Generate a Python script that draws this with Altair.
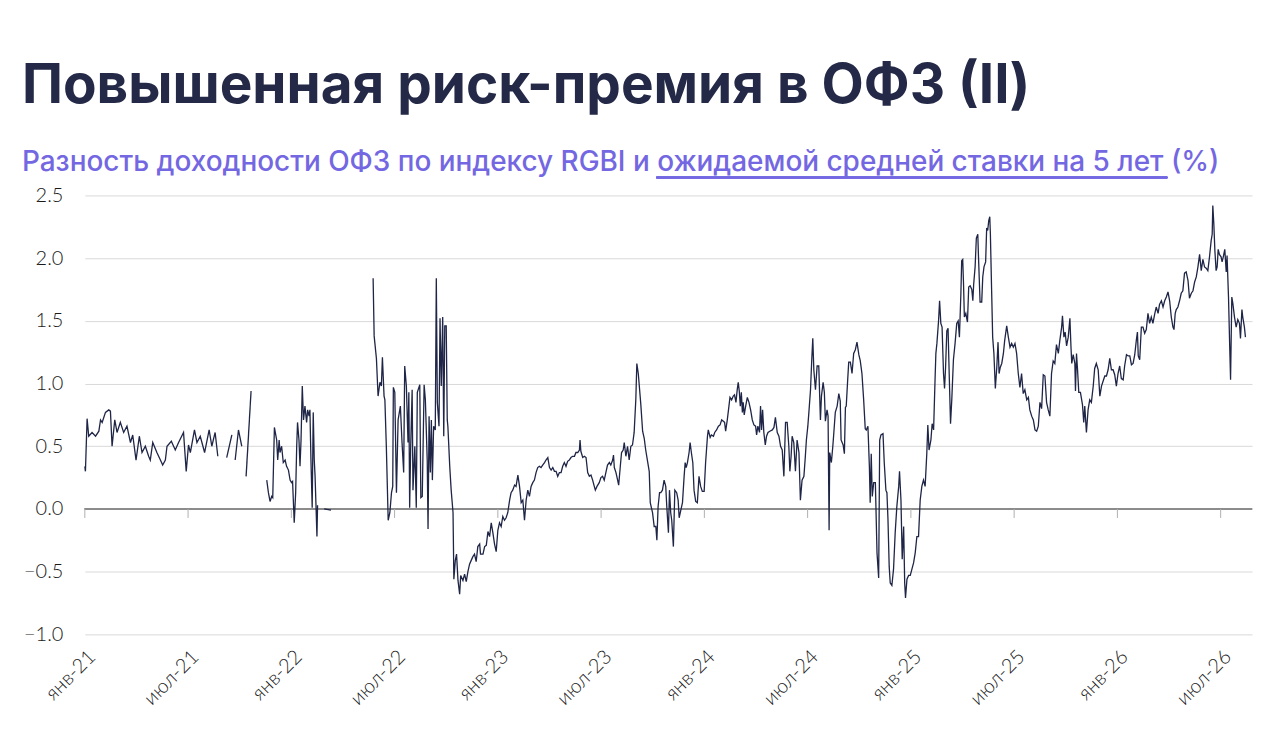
import altair as alt
import pandas as pd

# x = years since 1 Jan 2021, y = spread, %
SEG_2021_A = [(0.000,0.34),(0.003,0.30),(0.011,0.72),(0.019,0.58),(0.035,0.61),(0.052,0.58),(0.068,0.62),(0.076,0.71),(0.084,0.69),(0.100,0.77),(0.116,0.79),(0.124,0.78),(0.132,0.50),(0.145,0.71),(0.156,0.61),(0.172,0.69),(0.188,0.61),(0.204,0.66),(0.221,0.53),(0.232,0.59),(0.248,0.39),(0.264,0.58),(0.277,0.45),(0.293,0.50),(0.309,0.42),(0.317,0.39),(0.329,0.53),(0.349,0.45),(0.366,0.39),(0.377,0.35),(0.390,0.39),(0.398,0.50),(0.419,0.54),(0.438,0.47),(0.454,0.53),(0.478,0.61),(0.491,0.30),(0.502,0.51),(0.511,0.45),(0.531,0.63),(0.543,0.53),(0.559,0.58),(0.580,0.45),(0.602,0.63),(0.615,0.50),(0.631,0.61),(0.644,0.42)]
SEG_2021_B = [(0.687,0.41),(0.712,0.59)]
SEG_2021_C = [(0.728,0.39),(0.744,0.63),(0.760,0.50)]
SEG_2021_D = [(0.781,0.26),(0.805,0.94)]
SEG_2021_E = [(0.881,0.23),(0.889,0.13),(0.897,0.06),(0.905,0.10),(0.910,0.09),(0.918,0.65),(0.929,0.55),(0.934,0.39),(0.941,0.55),(0.945,0.45),(0.953,0.50),(0.961,0.37),(0.970,0.39),(0.977,0.34),(0.986,0.31),(0.994,0.23),(1.001,0.21),(1.006,0.22),(1.014,-0.11),(1.021,0.13),(1.026,0.50),(1.030,0.69),(1.037,0.55),(1.042,0.34),(1.047,0.55),(1.053,0.98),(1.059,0.71),(1.066,0.82),(1.074,0.69),(1.079,0.79),(1.086,0.74),(1.090,0.79),(1.095,0.39),(1.101,0.01),(1.106,0.77),(1.111,0.39),(1.115,0.26),(1.119,0.05),(1.124,-0.22),(1.127,0.03)]
SEG_2022_F = [(1.159,0.00),(1.192,-0.01)]

MAIN_2022 = [(1.396,1.84),(1.401,1.38),(1.412,1.20),(1.420,0.90),(1.429,1.01),(1.436,0.98),(1.441,1.21),(1.449,0.90),(1.453,0.87),(1.460,0.50),(1.469,-0.09),(1.477,-0.03),(1.485,0.13),(1.491,0.18),(1.494,0.97),(1.501,0.93),(1.509,0.13),(1.517,0.71),(1.528,0.82),(1.536,0.53),(1.544,0.29),(1.549,1.14),(1.557,0.98),(1.565,0.53),(1.569,0.93),(1.573,0.01),(1.578,0.50),(1.585,0.95),(1.589,0.15),(1.598,0.50),(1.605,0.01),(1.610,0.93),(1.622,0.99),(1.627,0.09),(1.634,0.10),(1.643,0.99),(1.649,0.87),(1.658,0.39),(1.662,-0.16),(1.667,0.74),(1.673,0.29),(1.678,0.71),(1.683,0.23),(1.689,0.66),(1.697,0.63),(1.702,1.84),(1.707,0.85),(1.715,0.66),(1.720,1.52),(1.726,0.98),(1.733,1.53),(1.738,0.58),(1.743,1.46),(1.750,1.46),(1.755,0.71),(1.758,0.66),(1.767,0.34),(1.774,0.15),(1.783,-0.03),(1.787,-0.56),(1.794,-0.41),(1.800,-0.36),(1.807,-0.57),(1.815,-0.68),(1.820,-0.53),(1.831,-0.57),(1.839,-0.52),(1.847,-0.58),(1.855,-0.50),(1.863,-0.44),(1.871,-0.41),(1.879,-0.38),(1.887,-0.36),(1.895,-0.42),(1.903,-0.30),(1.912,-0.28),(1.916,-0.36),(1.928,-0.36),(1.936,-0.30),(1.944,-0.29),(1.952,-0.18),(1.960,-0.22),(1.968,-0.11),(1.976,-0.19),(1.984,-0.28),(1.992,-0.34)]
MAIN_2023 = [(2.000,-0.17),(2.008,-0.11),(2.016,-0.14),(2.024,-0.06),(2.032,-0.09),(2.040,-0.07),(2.048,-0.03),(2.057,0.07),(2.064,0.13),(2.072,0.15),(2.081,0.19),(2.088,0.18),(2.097,0.27),(2.105,0.18),(2.113,0.05),(2.121,0.07),(2.129,-0.09),(2.137,0.07),(2.145,0.15),(2.153,0.10),(2.161,0.18),(2.169,0.21),(2.177,0.23),(2.185,0.29),(2.193,0.33),(2.201,0.34),(2.209,0.33),(2.217,0.35),(2.226,0.37),(2.233,0.39),(2.242,0.41),(2.250,0.33),(2.258,0.31),(2.266,0.33),(2.274,0.30),(2.282,0.30),(2.290,0.26),(2.298,0.29),(2.306,0.29),(2.314,0.34),(2.322,0.37),(2.330,0.34),(2.338,0.38),(2.346,0.39),(2.354,0.41),(2.362,0.42),(2.371,0.42),(2.378,0.45),(2.387,0.45),(2.395,0.47),(2.398,0.55),(2.402,0.46),(2.411,0.41),(2.419,0.42),(2.427,0.41),(2.435,0.29),(2.443,0.26),(2.451,0.27),(2.459,0.23),(2.467,0.18),(2.472,0.15),(2.480,0.18),(2.491,0.21),(2.499,0.25),(2.507,0.26),(2.515,0.23),(2.523,0.29),(2.531,0.35),(2.540,0.37),(2.547,0.35),(2.556,0.39),(2.560,0.43),(2.564,0.33),(2.572,0.29),(2.580,0.23),(2.585,0.19),(2.593,0.34),(2.599,0.45),(2.607,0.47),(2.612,0.53),(2.620,0.42),(2.628,0.50),(2.636,0.39),(2.644,0.50),(2.652,0.51),(2.660,0.61),(2.668,0.87),(2.673,1.16),(2.680,1.08),(2.685,0.98),(2.692,0.84),(2.701,0.62),(2.709,0.56),(2.716,0.47),(2.725,0.38),(2.733,0.30),(2.738,0.05),(2.749,-0.03),(2.757,-0.14),(2.765,-0.14),(2.770,-0.25),(2.776,0.02),(2.783,0.13),(2.789,0.13),(2.797,0.15),(2.805,0.23),(2.813,0.18),(2.818,0.02),(2.826,-0.19),(2.831,0.15),(2.837,-0.03),(2.842,-0.09),(2.850,-0.30),(2.857,0.15),(2.866,0.13),(2.873,0.07),(2.878,-0.07),(2.886,-0.01),(2.894,0.05),(2.902,0.26),(2.907,0.37),(2.912,0.33),(2.918,0.37),(2.926,0.45),(2.931,0.53),(2.937,0.45),(2.944,0.37),(2.950,0.15),(2.958,0.06),(2.966,0.05),(2.974,0.26),(2.982,0.18),(2.990,0.14),(2.999,0.14)]
MAIN_2024 = [(3.006,0.37),(3.015,0.58),(3.019,0.63),(3.028,0.57),(3.034,0.59),(3.044,0.58),(3.050,0.61),(3.059,0.63),(3.068,0.66),(3.076,0.67),(3.084,0.71),(3.092,0.70),(3.098,0.69),(3.103,0.62),(3.111,0.71),(3.119,0.82),(3.124,0.89),(3.132,0.87),(3.140,0.90),(3.146,0.91),(3.153,0.85),(3.159,0.95),(3.164,1.01),(3.169,0.94),(3.174,0.82),(3.179,0.93),(3.184,0.77),(3.188,0.85),(3.193,0.75),(3.200,0.82),(3.208,0.89),(3.216,0.85),(3.224,0.79),(3.232,0.71),(3.240,0.67),(3.248,0.66),(3.253,0.59),(3.259,0.66),(3.267,0.61),(3.272,0.82),(3.277,0.63),(3.282,0.79),(3.288,0.61),(3.295,0.51),(3.301,0.58),(3.308,0.61),(3.317,0.62),(3.329,0.63),(3.337,0.65),(3.344,0.73),(3.353,0.61),(3.361,0.58),(3.369,0.50),(3.377,0.47),(3.385,0.26),(3.393,0.69),(3.401,0.69),(3.409,0.50),(3.414,0.30),(3.420,0.42),(3.425,0.58),(3.433,0.53),(3.441,0.30),(3.449,0.55),(3.458,0.45),(3.465,0.07),(3.473,0.23),(3.482,0.26),(3.489,0.42),(3.494,0.55),(3.501,0.66),(3.507,0.79),(3.514,0.95),(3.520,1.19),(3.525,1.36),(3.530,1.11),(3.538,0.95),(3.546,1.14),(3.554,1.14),(3.562,0.71),(3.567,0.90),(3.575,1.01),(3.581,0.93),(3.586,0.70),(3.594,0.79),(3.599,0.74),(3.604,-0.17),(3.607,0.45),(3.615,0.37),(3.622,0.50),(3.627,0.61),(3.634,0.77),(3.643,0.82),(3.651,0.92),(3.658,0.86),(3.662,0.55),(3.672,0.51),(3.678,0.44),(3.683,0.81),(3.687,0.82),(3.694,1.03),(3.699,1.17),(3.707,1.17),(3.715,1.08),(3.723,1.24),(3.731,1.27),(3.739,1.33),(3.748,1.23),(3.755,1.18),(3.763,1.08),(3.771,0.88),(3.779,0.64),(3.784,0.63),(3.792,0.66),(3.799,0.34),(3.803,0.05),(3.808,0.44),(3.813,0.10),(3.820,0.21),(3.828,0.21),(3.836,-0.35),(3.844,-0.55),(3.849,0.55),(3.855,0.59),(3.865,0.60),(3.871,0.37),(3.879,0.15),(3.884,0.13),(3.889,-0.08),(3.895,-0.46),(3.900,-0.59),(3.908,-0.61),(3.916,-0.48),(3.924,-0.19),(3.932,0.02),(3.941,0.18),(3.945,0.30),(3.952,0.07),(3.958,-0.40),(3.965,-0.14),(3.970,-0.59),(3.974,-0.71),(3.981,-0.56),(3.989,-0.53),(3.997,-0.53)]
MAIN_2025 = [(4.005,-0.48),(4.013,-0.43),(4.021,-0.35),(4.029,-0.22),(4.037,-0.22),(4.045,0.07),(4.053,0.18),(4.061,0.23),(4.069,0.18),(4.077,0.44),(4.082,0.67),(4.088,0.47),(4.097,0.55),(4.103,0.68),(4.110,0.63),(4.117,1.03),(4.121,1.24),(4.126,1.32),(4.134,1.50),(4.139,1.66),(4.145,1.48),(4.151,1.45),(4.158,1.08),(4.163,0.96),(4.168,1.13),(4.174,1.42),(4.180,1.44),(4.185,1.11),(4.192,0.68),(4.198,0.87),(4.206,1.19),(4.214,1.32),(4.222,1.48),(4.229,1.50),(4.235,1.37),(4.242,1.71),(4.246,1.98),(4.251,1.99),(4.255,1.79),(4.259,1.53),(4.266,1.56),(4.274,1.49),(4.280,1.77),(4.287,1.78),(4.295,1.75),(4.300,1.66),(4.304,1.79),(4.311,1.93),(4.317,2.16),(4.324,2.19),(4.327,2.03),(4.335,1.65),(4.343,1.65),(4.348,1.85),(4.354,1.93),(4.362,1.97),(4.367,2.24),(4.372,2.22),(4.377,2.30),(4.382,2.33),(4.385,2.19),(4.391,1.74),(4.396,1.37),(4.402,1.24),(4.409,0.96),(4.416,1.13),(4.422,1.33),(4.427,1.08),(4.433,1.13),(4.440,1.16),(4.448,1.24),(4.454,1.34),(4.464,1.46),(4.472,1.37),(4.480,1.29),(4.488,1.32),(4.496,1.29),(4.504,1.32),(4.512,1.24),(4.520,1.08),(4.528,0.97),(4.536,1.08),(4.544,0.92),(4.552,0.95),(4.561,0.87),(4.569,0.89),(4.576,0.79),(4.585,0.74),(4.593,0.71),(4.601,0.63),(4.609,0.62),(4.617,0.66),(4.625,0.85),(4.633,0.80),(4.641,1.07),(4.649,1.06),(4.657,0.85),(4.665,0.79),(4.673,0.74),(4.681,1.08),(4.689,1.18),(4.697,1.16),(4.705,1.31),(4.714,1.24),(4.721,1.34),(4.730,1.45),(4.734,1.54),(4.741,1.37),(4.747,1.41),(4.754,1.30),(4.762,1.37),(4.770,1.52),(4.775,1.30),(4.779,1.16),(4.786,1.23),(4.794,1.16),(4.797,0.94),(4.802,1.24),(4.807,1.11),(4.813,0.93),(4.821,0.93),(4.831,0.83),(4.837,0.69),(4.842,0.82),(4.850,0.61),(4.858,0.79),(4.866,0.87),(4.874,0.85),(4.883,0.98),(4.890,1.12),(4.898,1.16),(4.907,1.11),(4.915,0.90),(4.923,0.98),(4.931,1.02),(4.939,1.06),(4.947,1.06),(4.955,1.11),(4.963,1.20),(4.971,1.11),(4.979,1.11),(4.987,1.07),(4.995,0.98)]
MAIN_2026 = [(5.003,1.08),(5.011,1.14),(5.019,1.04),(5.028,1.03),(5.035,1.14),(5.044,1.23),(5.052,1.22),(5.060,1.22),(5.068,1.15),(5.076,1.16),(5.084,1.23),(5.092,1.35),(5.097,1.41),(5.101,1.22),(5.108,1.19),(5.116,1.45),(5.124,1.45),(5.132,1.40),(5.140,1.43),(5.148,1.56),(5.156,1.48),(5.164,1.53),(5.172,1.48),(5.180,1.55),(5.188,1.61),(5.197,1.56),(5.204,1.63),(5.213,1.66),(5.221,1.61),(5.229,1.66),(5.237,1.69),(5.245,1.73),(5.253,1.66),(5.261,1.53),(5.269,1.45),(5.274,1.43),(5.280,1.56),(5.285,1.59),(5.293,1.61),(5.301,1.66),(5.309,1.72),(5.317,1.74),(5.325,1.88),(5.333,1.89),(5.342,1.82),(5.349,1.68),(5.358,1.72),(5.366,1.74),(5.374,1.81),(5.382,1.85),(5.390,1.93),(5.398,2.03),(5.406,1.90),(5.414,1.99),(5.422,1.93),(5.430,1.92),(5.438,1.90),(5.446,2.01),(5.454,2.14),(5.459,2.19),(5.462,2.42),(5.467,2.27),(5.472,2.06),(5.478,1.90),(5.483,1.93),(5.488,2.07),(5.494,2.03),(5.502,2.01),(5.507,1.97),(5.514,2.02),(5.520,2.07),(5.527,1.89),(5.531,2.02),(5.538,1.69),(5.543,1.35),(5.548,1.03),(5.554,1.69),(5.559,1.64),(5.567,1.53),(5.575,1.45),(5.583,1.51),(5.591,1.48),(5.596,1.36),(5.603,1.59),(5.607,1.53),(5.615,1.45),(5.620,1.37)]

TICK_POS = [0.0, 0.5, 1.0, 1.5, 2.0, 2.5, 3.0, 3.5, 4.0, 4.5, 5.0, 5.5]
TICK_LABELS = ["янв-21", "июл-21", "янв-22", "июл-22", "янв-23", "июл-23",
               "янв-24", "июл-24", "янв-25", "июл-25", "янв-26", "июл-26"]
Y_TICKS = [-1.0, -0.5, 0.0, 0.5, 1.0, 1.5, 2.0, 2.5]
X_EDGES = [0.0, 5.652]

TITLE = "Повышенная риск-премия в ОФЗ (II)"
SUBTITLE = "Разность доходности ОФЗ по индексу RGBI и ожидаемой средней ставки на 5 лет (%)"

segments = {
    "a": SEG_2021_A, "b": SEG_2021_B, "c": SEG_2021_C, "d": SEG_2021_D,
    "e": SEG_2021_E, "f": SEG_2022_F,
    "g": MAIN_2022 + MAIN_2023 + MAIN_2024 + MAIN_2025 + MAIN_2026,
}
rows = []
for name, pts in segments.items():
    for t, v in pts:
        rows.append({"t": t, "v": v, "seg": name})
df = pd.DataFrame(rows)
ticks_df = pd.DataFrame({"t": TICK_POS})

NAVY = "#1f2547"
PURPLE = "#7467e2"
label_js = "[" + ",".join("'" + s + "'" for s in TICK_LABELS) + "][round(datum.value*2)]"

xscale = alt.Scale(domain=X_EDGES, nice=False, zero=False)
yscale = alt.Scale(domain=[-1.0, 2.5], nice=False)

x_axis = alt.Axis(values=TICK_POS, labelExpr=label_js, labelAngle=-45,
                  grid=False, domain=False, ticks=False, labelPadding=12,
                  labelFont="Lato", labelFontSize=20, labelFontWeight=300,
                  labelColor="#1a1a1a", title=None, labelOverlap=False)
y_axis = alt.Axis(values=Y_TICKS, format=".1f", grid=True, gridColor="#d9d9d9",
                  domain=False, ticks=False, labelPadding=22,
                  labelFont="Lato", labelFontSize=20, labelFontWeight=300,
                  labelColor="#1a1a1a", title=None)

line = alt.Chart(df).mark_line(color=NAVY, strokeWidth=1.3).encode(
    x=alt.X("t:Q", scale=xscale, axis=x_axis),
    y=alt.Y("v:Q", scale=yscale, axis=y_axis),
    detail="seg:N",
    order="t:Q",
)

zero = alt.Chart(ticks_df).mark_rule(color="#8c8c8c", strokeWidth=1).encode(
    y=alt.datum(0, scale=yscale, axis=y_axis)
)

tick_marks = alt.Chart(ticks_df).mark_rule(color="#b0b0b0", strokeWidth=1, y2Offset=9).encode(
    x=alt.X("t:Q", scale=xscale, axis=x_axis),
    y=alt.datum(0, scale=yscale, axis=y_axis), y2=alt.datum(0)
)

underline = alt.Chart(ticks_df).mark_rule(color=PURPLE, strokeWidth=1.5).encode(
    x=alt.value(573), x2=alt.value(1085), y=alt.value(-18)
)

chart = alt.layer(zero, tick_marks, line, underline).properties(
    width=1170, height=440,
    padding={"left": 77, "top": 187, "right": 20, "bottom": 100},
    autosize=alt.AutoSizeParams(type="none"),
    background="white",
    view=alt.ViewBackground(stroke="transparent", strokeOpacity=0, strokeWidth=0),
    title=alt.TitleParams(
        text=TITLE, subtitle=SUBTITLE, anchor="start", frame="group", dx=-63,
        font="Inter", fontSize=55, fontWeight=700, color="#232946",
        subtitleFont="Inter", subtitleFontSize=28, subtitleFontWeight=500,
        subtitleColor=PURPLE, subtitlePadding=34, offset=-1,
    ),
).configure(
    view=alt.ViewConfig(stroke="transparent", strokeOpacity=0, strokeWidth=0),
    style={"cell": {"stroke": "transparent", "strokeOpacity": 0, "strokeWidth": 0}},
)

chart.save("out.html", embed_options={"renderer": "svg", "actions": False})
